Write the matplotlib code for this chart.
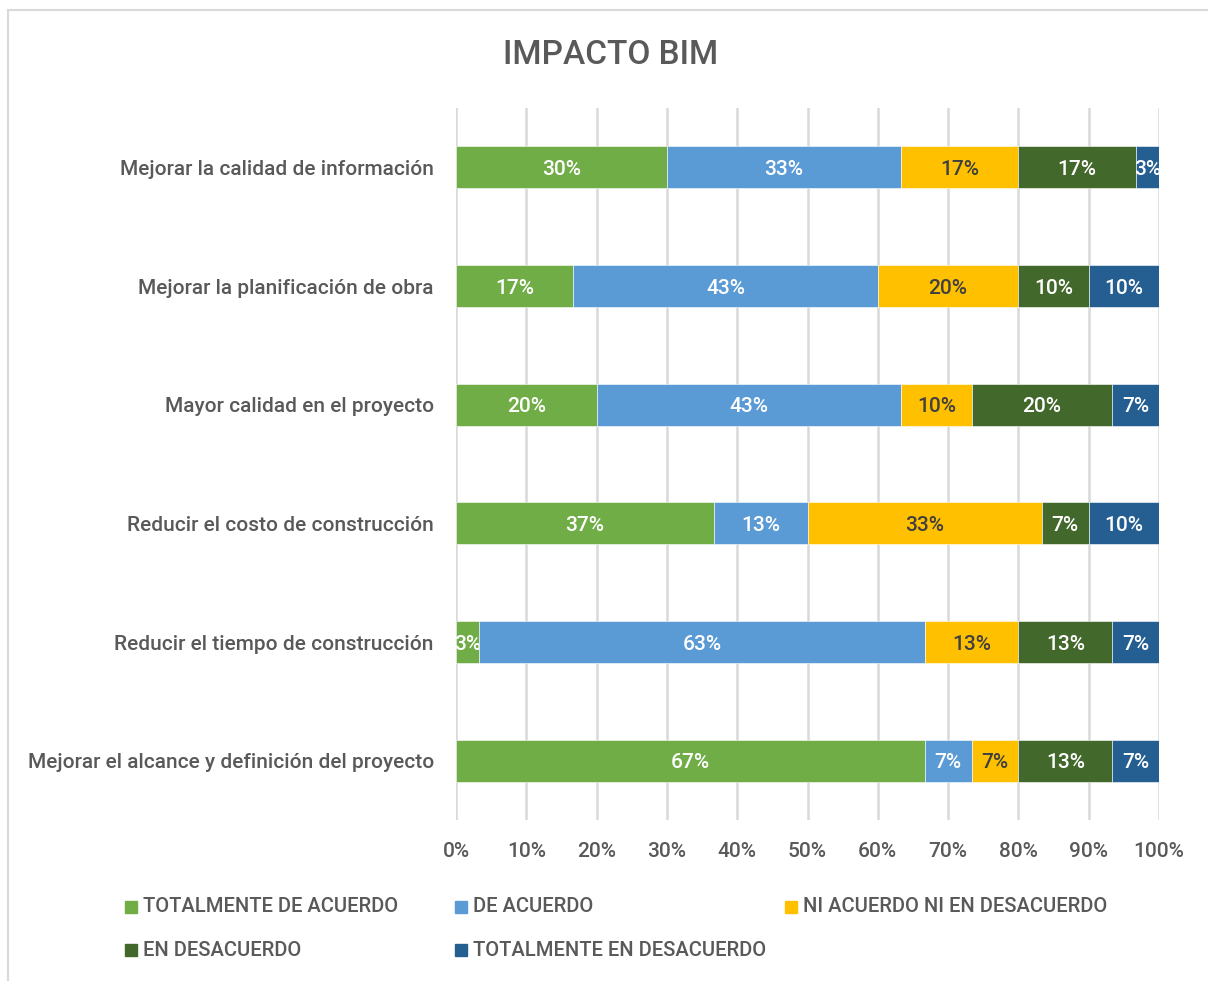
import matplotlib
matplotlib.use("Agg")
import matplotlib.pyplot as plt
from matplotlib.patches import Rectangle
import numpy as np

plt.rcParams["font.family"] = ["Roboto", "DejaVu Sans"]
plt.rcParams["font.weight"] = 500

# survey answers (30 respondents per statement), top row first
categories = [
    "Mejorar la calidad de información",
    "Mejorar la planificación de obra",
    "Mayor calidad en el proyecto",
    "Reducir el costo de construcción",
    "Reducir el tiempo de construcción",
    "Mejorar el alcance y definición del proyecto",
]
series = [
    "TOTALMENTE DE ACUERDO",
    "DE ACUERDO",
    "NI ACUERDO NI EN DESACUERDO",
    "EN DESACUERDO",
    "TOTALMENTE EN DESACUERDO",
]
totalmente_de_acuerdo = [9, 5, 6, 11, 1, 20]
de_acuerdo = [10, 13, 13, 4, 19, 2]
ni_acuerdo = [5, 6, 3, 10, 4, 2]
en_desacuerdo = [5, 3, 6, 2, 4, 4]
totalmente_en_desacuerdo = [1, 3, 2, 3, 2, 2]

colors = ["#70AD47", "#5B9BD5", "#FFC000", "#43682B", "#255E91"]
label_colors = ["white", "white", "#404040", "white", "white"]
text_gray = "#595959"

counts = np.array([totalmente_de_acuerdo, de_acuerdo, ni_acuerdo,
                   en_desacuerdo, totalmente_en_desacuerdo], dtype=float)
shares = counts / counts.sum(axis=0)

fig = plt.figure(figsize=(12.08, 9.81), dpi=100)
ax = fig.add_axes([456 / 1208, 1 - 820 / 981, 703 / 1208, 712 / 981])

y = np.arange(len(categories))[::-1]
left = np.zeros(len(categories))
for i, name in enumerate(series):
    bars = ax.barh(y, shares[i], left=left, height=0.353, color=colors[i],
                   edgecolor="white", linewidth=0.4, label=name, zorder=3)
    labels = ax.bar_label(bars, labels=[f"{v:.0%}" for v in shares[i]],
                          label_type="center", color=label_colors[i], fontsize=15)
    for t in labels:
        t.set_va("center_baseline")
    left += shares[i]

ax.set_xlim(0, 1)
ax.set_ylim(-0.5, len(categories) - 0.5)
ax.set_xticks(np.linspace(0, 1, 11))
ax.set_xticklabels([f"{int(t)}%" for t in np.linspace(0, 100, 11)])
ax.set_yticks(y)
ax.set_yticklabels(categories)
ax.tick_params(axis="both", length=0, labelsize=15, labelcolor=text_gray)
ax.tick_params(axis="y", pad=16)
ax.tick_params(axis="x", pad=16)
ax.grid(axis="x", color="#D9D9D9", linewidth=1.8, zorder=0)
for s in ax.spines.values():
    s.set_visible(False)

fig.text(611 / 1208, 1 - 55 / 981, "IMPACTO BIM", ha="center", va="center",
         fontsize=24, color=text_gray)

# legend laid out in rows of three
legend_x = [125, 455, 785]
legend_y = [907, 950]
for i, name in enumerate(series):
    lx = legend_x[i % 3]
    ly = legend_y[i // 3]
    fig.patches.append(Rectangle((lx / 1208, 1 - (ly + 6) / 981), 12 / 1208, 12 / 981,
                                 transform=fig.transFigure, color=colors[i]))
    fig.text((lx + 18) / 1208, 1 - ly / 981, name, ha="left", va="center",
             fontsize=14.5, color=text_gray)

# chart frame
fig.patches.append(Rectangle((8 / 1208, -0.05), 1.1, 1 - 10 / 981 + 0.05,
                             transform=fig.transFigure, fill=False,
                             edgecolor="#D9D9D9", linewidth=1.5))

fig.savefig("out.png", dpi=100)
